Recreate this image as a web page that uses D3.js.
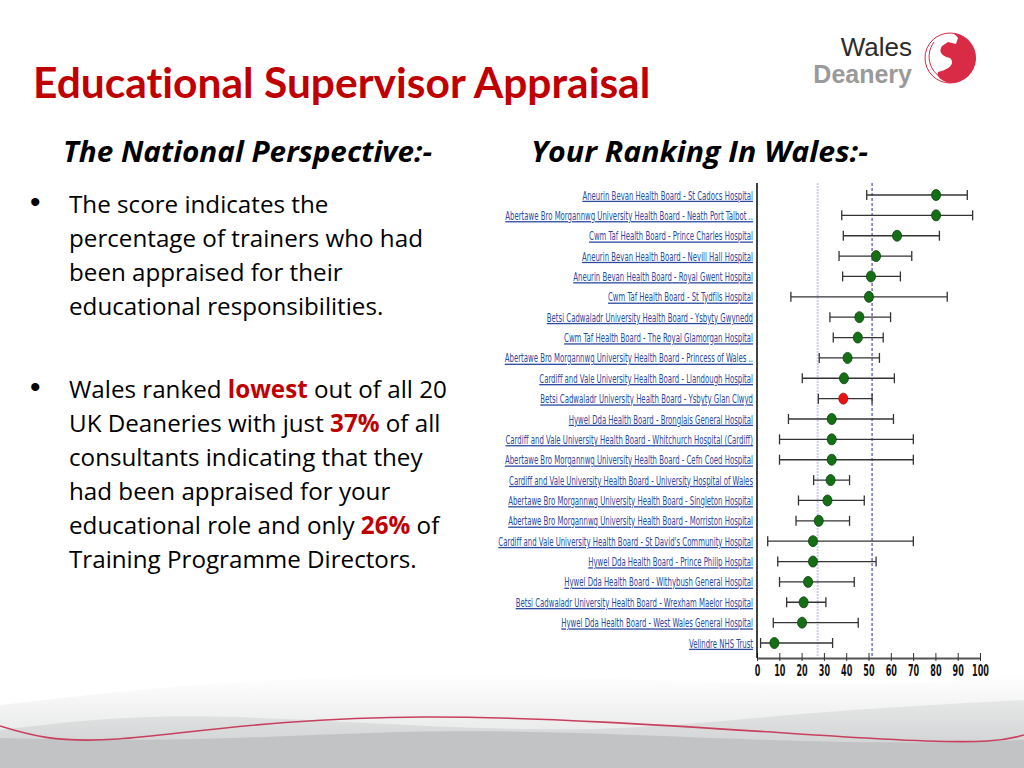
<!DOCTYPE html>
<html>
<head>
<meta charset="utf-8">
<script src="https://cdn.jsdelivr.net/npm/d3@7"></script>
<style>
  html, body { margin: 0; padding: 0; background: #fff; }
  svg { display: block; }
  text { font-variant-ligatures: none; }
</style>
</head>
<body>
<div id="slide"></div>
<script>
// Educational Supervisor Appraisal - ranking of Welsh sites

const hospitals = [
    "Aneurin Bevan Health Board - St Cadocs Hospital",
    "Abertawe Bro Morgannwg University Health Board - Neath Port Talbot ..",
    "Cwm Taf Health Board - Prince Charles Hospital",
    "Aneurin Bevan Health Board - Nevill Hall Hospital",
    "Aneurin Bevan Health Board - Royal Gwent Hospital",
    "Cwm Taf Health Board - St Tydfils Hospital",
    "Betsi Cadwaladr University Health Board - Ysbyty Gwynedd",
    "Cwm Taf Health Board - The Royal Glamorgan Hospital",
    "Abertawe Bro Morgannwg University Health Board - Princess of Wales ..",
    "Cardiff and Vale University Health Board - Llandough Hospital",
    "Betsi Cadwaladr University Health Board - Ysbyty Glan Clwyd",
    "Hywel Dda Health Board - Bronglais General Hospital",
    "Cardiff and Vale University Health Board - Whitchurch Hospital (Cardiff)",
    "Abertawe Bro Morgannwg University Health Board - Cefn Coed Hospital",
    "Cardiff and Vale University Health Board - University Hospital of Wales",
    "Abertawe Bro Morgannwg University Health Board - Singleton Hospital",
    "Abertawe Bro Morgannwg University Health Board - Morriston Hospital",
    "Cardiff and Vale University Health Board - St David's Community Hospital",
    "Hywel Dda Health Board - Prince Philip Hospital",
    "Hywel Dda Health Board - Withybush General Hospital",
    "Betsi Cadwaladr University Health Board - Wrexham Maelor Hospital",
    "Hywel Dda Health Board - West Wales General Hospital",
    "Velindre NHS Trust"
];
const scores = [80.3, 80.3, 62.8, 53.4, 51.1, 50.2, 45.9, 45.2, 40.6, 39.0, 38.7, 33.5,
                33.5, 33.5, 33.0, 31.6, 27.7, 25.1, 25.1, 22.9, 20.9, 20.2, 7.8];
const lowerCI = [49.2, 38.0, 38.7, 36.8, 38.4, 15.2, 32.7, 34.2, 27.9, 20.3, 27.5, 14.1,
                 10.1, 10.1, 25.4, 18.6, 17.5, 4.8, 9.3, 10.1, 13.3, 7.3, 1.6];
const upperCI = [94.3, 96.7, 81.8, 69.4, 64.3, 85.3, 59.9, 56.6, 54.9, 61.6, 51.6, 61.2,
                 70.1, 70.1, 41.5, 48.1, 41.5, 70.1, 53.4, 43.6, 30.9, 45.4, 33.9];
const highlighted = "Betsi Cadwaladr University Health Board - Ysbyty Glan Clwyd";
const nationalMean = 51.6;
const walesMean = 27.2;
const xTicks = [0, 10, 20, 30, 40, 50, 60, 70, 80, 90, 100];

const W = 1024, H = 768;
const svg = d3.select('#slide').append('svg')
    .attr('width', W)
    .attr('height', H);

// ---- background swoosh at the bottom ----
const defs = svg.append('defs');
const g1 = defs.append('linearGradient').attr('id', 'fadeTop')
    .attr('x1', 0).attr('y1', 0).attr('x2', 0).attr('y2', 1);
g1.append('stop').attr('offset', '0%').attr('stop-color', '#ffffff');
g1.append('stop').attr('offset', '100%').attr('stop-color', '#dcdddd');
const g2 = defs.append('linearGradient').attr('id', 'fadeMid')
    .attr('x1', 0).attr('y1', 0).attr('x2', 0).attr('y2', 1);
g2.append('stop').attr('offset', '0%').attr('stop-color', '#e6e7e7');
g2.append('stop').attr('offset', '100%').attr('stop-color', '#c9cbcc');

const wave = d3.line().curve(d3.curveBasis);
const bg = svg.append('g');
bg.append('path')
    .attr('fill', 'url(#fadeTop)')
    .attr('d', wave([[0, 705], [200, 682], [450, 672], [700, 682], [900, 686], [1024, 675]]) + 'L1024,768L0,768Z');
bg.append('path')
    .attr('fill', 'url(#fadeMid)')
    .attr('d', wave([[0, 730], [150, 712], [350, 722], [600, 735], [800, 712], [1024, 700]]) + 'L1024,768L0,768Z');
bg.append('path')
    .attr('fill', '#c1c3c4')
    .attr('d', wave([[0, 738], [200, 742], [450, 727], [700, 738], [900, 744], [1024, 740]]) + 'L1024,768L0,768Z');
bg.append('path')
    .attr('fill', 'none')
    .attr('stroke', '#c8405f')
    .attr('stroke-width', 1.6)
    .attr('d', d3.line().curve(d3.curveNatural)([[0, 726], [118, 739], [425, 717], [882, 739], [1024, 735]]));

// ---- title and headings ----
svg.append('text')
    .attr('x', 33).attr('y', 98)
    .style('font-family', 'Lato, "Open Sans", sans-serif')
    .style('font-weight', 'bold')
    .style('font-size', '42.5px')
    .style('fill', '#c00000')
    .text('Educational Supervisor Appraisal');

const heads = [['The National Perspective:-', 63, 369], ['Your Ranking In Wales:-', 531, 337]];
svg.selectAll('text.head')
    .data(heads)
    .join('text')
    .attr('class', 'head')
    .attr('x', d => d[1]).attr('y', 162)
    .attr('textLength', d => d[2])
    .attr('lengthAdjust', 'spacingAndGlyphs')
    .style('font-family', '"Open Sans", Lato, sans-serif')
    .style('font-weight', 'bold')
    .style('font-style', 'italic')
    .style('font-size', '29px')
    .style('fill', '#000')
    .text(d => d[0]);

// ---- logo ----
const logo = svg.append('g');
logo.append('text')
    .attr('x', 912).attr('y', 56)
    .attr('text-anchor', 'end')
    .style('font-family', '"Liberation Sans", Arial, sans-serif')
    .style('font-size', '26px')
    .style('fill', '#2b2b2b')
    .text('Wales');
logo.append('text')
    .attr('x', 912).attr('y', 83)
    .attr('text-anchor', 'end')
    .style('font-family', '"Liberation Sans", Arial, sans-serif')
    .style('font-weight', 'bold')
    .style('font-size', '25px')
    .style('fill', '#9a9a9a')
    .text('Deanery');
logo.append('circle')
    .attr('cx', 950).attr('cy', 58).attr('r', 25)
    .attr('fill', 'none').attr('stroke', '#d92b45').attr('stroke-width', 1);
logo.append('path')
    .attr('fill', '#d92b45')
    .attr('d', 'M952,33 A25,25 0 0 1 950,83 C942,81 936,77 938,72 C948,70 956,64 950,58 C942,56 938,52 942,46 L948,42 L956,44 L958,38 C956,35 954,34 952,33Z');
logo.append('path')
    .attr('fill', 'none').attr('stroke', '#d92b45').attr('stroke-width', 1)
    .attr('d', 'M934,42 C924,56 930,74 946,80');

// ---- bullet points ----
const bulletFont = '"Open Sans", Lato, sans-serif';
const para1 = [
    [['The score indicates the', false]],
    [['percentage of trainers who had', false]],
    [['been appraised for their', false]],
    [['educational responsibilities.', false]]
];
const para2 = [
    [['Wales ranked ', false], ['lowest', true], [' out of all 20', false]],
    [['UK Deaneries with just ', false], ['37%', true], [' of all', false]],
    [['consultants indicating that they', false]],
    [['had been appraised for your', false]],
    [['educational role and only ', false], ['26%', true], [' of', false]],
    [['Training Programme Directors.', false]]
];

function drawPara(lines, y0) {
    svg.append('text')
        .attr('x', 30).attr('y', y0 - 1)
        .style('font-family', '"Liberation Sans", Arial, sans-serif')
        .style('font-size', '30px')
        .text('\u2022');
    lines.forEach((runs, i) => {
        const t = svg.append('text')
            .attr('x', 69).attr('y', y0 + i * 34)
            .style('font-family', bulletFont)
            .style('font-size', '24.2px')
            .style('fill', '#000');
        runs.forEach(([s, hot]) => {
            t.append('tspan')
                .style('font-weight', hot ? 'bold' : 'normal')
                .style('fill', hot ? '#c00000' : '#000')
                .text(s);
        });
    });
}
drawPara(para1, 213);
drawPara(para2, 398);

// ---- ranking chart ----
const labelFont = '"Liberation Sans Narrow", "DejaVu Sans Condensed", "Arial Narrow", sans-serif';
const x = d3.scaleLinear().domain([0, 100]).range([757, 980]);
const y = d3.scalePoint().domain(hospitals).range([195, 643]);
const rows = hospitals.map((h, i) => ({
    name: h, score: scores[i], lo: lowerCI[i], hi: upperCI[i]
}));
const chart = svg.append('g');

// reference lines
chart.append('line')
    .attr('x1', x(walesMean)).attr('x2', x(walesMean))
    .attr('y1', 183).attr('y2', 657)
    .attr('stroke', '#cfcff5').attr('stroke-width', 2)
    .attr('stroke-dasharray', '2,1');
chart.append('line')
    .attr('x1', x(nationalMean)).attr('x2', x(nationalMean))
    .attr('y1', 183).attr('y2', 657)
    .attr('stroke', '#2a2aa8').attr('stroke-width', 1)
    .attr('stroke-dasharray', '3,2');

// x axis
const xAxis = d3.axisBottom(x)
    .tickValues(xTicks)
    .tickSize(0)
    .tickPadding(0)
    .tickFormat(d3.format('d'));
const axisG = chart.append('g')
    .attr('transform', 'translate(0,658)')
    .call(xAxis);
axisG.select('.domain').attr('stroke', '#555').attr('stroke-width', 2);
axisG.selectAll('.tick line').remove();
axisG.selectAll('.tick').append('line')
    .attr('y1', -5).attr('y2', 3)
    .attr('stroke', '#333').attr('stroke-width', 1);
axisG.selectAll('.tick text')
    .attr('y', 0).attr('dy', 0)
    .attr('transform', 'translate(0,18) scale(0.72,1.2)')
    .style('font-family', labelFont)
    .style('font-size', '12.5px')
    .style('font-weight', 'bold')
    .style('fill', '#111');

// y axis line
chart.append('line')
    .attr('x1', x(0)).attr('x2', x(0))
    .attr('y1', 183).attr('y2', 658)
    .attr('stroke', '#000').attr('stroke-width', 1.5);

// error bars
const bars = chart.selectAll('g.bar')
    .data(rows)
    .join('g')
    .attr('class', 'bar')
    .attr('transform', d => `translate(0,${y(d.name)})`);
bars.append('line')
    .attr('x1', d => x(d.lo)).attr('x2', d => x(d.hi))
    .attr('stroke', '#333').attr('stroke-width', 1.3);
bars.selectAll('line.cap')
    .data(d => [d.lo, d.hi])
    .join('line')
    .attr('class', 'cap')
    .attr('x1', v => x(v)).attr('x2', v => x(v))
    .attr('y1', -5).attr('y2', 5)
    .attr('stroke', '#333').attr('stroke-width', 1.3);
bars.append('ellipse')
    .attr('cx', d => x(d.score))
    .attr('rx', 4.5).attr('ry', 5.5)
    .attr('fill', d => d.name === highlighted ? '#ee1111' : '#157015')
    .attr('stroke', d => d.name === highlighted ? '#991111' : '#0b3f0b')
    .attr('stroke-width', 0.8);

// row labels (narrow, underlined like links)
const labels = chart.selectAll('text.lbl')
    .data(rows)
    .join('text')
    .attr('class', 'lbl')
    .attr('text-anchor', 'end')
    .attr('dy', '0.35em')
    .style('font-family', labelFont)
    .style('font-size', '12px')
    .style('fill', '#2b4aa0')
    .style('text-decoration', 'underline')
    .text(d => d.name);
const longest = labels.filter(d => d.name.indexOf("St David's") >= 0).node().getComputedTextLength();
const squeeze = 255 / longest;
labels.attr('transform', d => `translate(753,${y(d.name)}) scale(${squeeze},1.08)`);
</script>
</body>
</html>
